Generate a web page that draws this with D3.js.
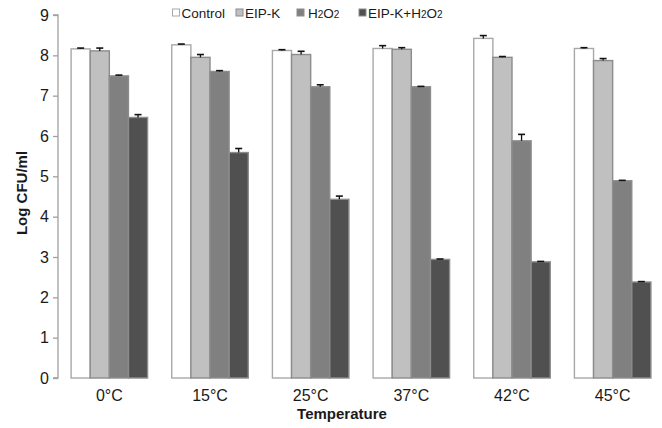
<!DOCTYPE html>
<html>
<head>
<meta charset="utf-8">
<script src="https://cdn.jsdelivr.net/npm/d3@7"></script>
<style>
  body { margin: 0; background: #fff; }
  text { font-family: "Liberation Sans", Arial, sans-serif; fill: #1a1a1a; }
</style>
</head>
<body>
<div id="chart"></div>
<script>
// data
var temps = ["0\u00B0C", "15\u00B0C", "25\u00B0C", "37\u00B0C", "42\u00B0C", "45\u00B0C"];
var series = ["Control", "EIP-K", "H2O2", "EIP-K+H2O2"];
var control = [8.16, 8.26, 8.12, 8.17, 8.42, 8.17];
var eipk = [8.11, 7.95, 8.02, 8.15, 7.95, 7.87];
var h2o2 = [7.49, 7.60, 7.22, 7.22, 5.88, 4.89];
var combo = [6.46, 5.59, 4.43, 2.94, 2.88, 2.38];
var errControl = [0.02, 0.02, 0.02, 0.07, 0.07, 0.02];
var errEipk = [0.07, 0.07, 0.08, 0.04, 0.02, 0.05];
var errH2o2 = [0.02, 0.02, 0.05, 0.01, 0.16, 0.01];
var errCombo = [0.07, 0.1, 0.08, 0.01, 0.01, 0.01];
var yTicks = [0, 1, 2, 3, 4, 5, 6, 7, 8, 9];

var fills = ["#ffffff", "#c0c0c0", "#808080", "#505050"];
var strokes = ["#a8a8a8", "#8c8c8c", "#8c8c8c", "#8c8c8c"];

var values = [control, eipk, h2o2, combo];
var errs = [errControl, errEipk, errH2o2, errCombo];

var width = 662, height = 428;

var svg = d3.select("#chart").append("svg")
  .attr("width", width)
  .attr("height", height);

var x0 = d3.scaleBand().domain(temps).range([58, 664]).paddingInner(0.24).paddingOuter(0.13);
var x1 = d3.scaleBand().domain(series).range([0, x0.bandwidth()]);
var y = d3.scaleLinear().domain([0, 9]).range([378, 15]);

// y axis
var yAxis = svg.append("g")
  .attr("transform", "translate(58,0)")
  .call(d3.axisLeft(y).tickValues(yTicks).tickSize(5).tickPadding(4));
yAxis.selectAll("path, line").attr("stroke", "#a0a0a0").attr("stroke-width", 1.3);
yAxis.select(".domain").attr("d", "M-5," + y(9) + "H0V" + y(0) + "H-5");
yAxis.selectAll("text").attr("font-size", 16).attr("fill", "#1a1a1a")
  .style("font-family", "'Liberation Sans', Arial, sans-serif");

// bars
var rows = [];
temps.forEach(function (t, i) {
  series.forEach(function (s, j) {
    rows.push({ t: t, s: s, j: j, v: values[j][i], e: errs[j][i] });
  });
});

var g = svg.append("g");
g.selectAll("rect.bar")
  .data(rows)
  .enter()
  .append("rect")
  .attr("class", "bar")
  .attr("x", d => x0(d.t) + x1(d.s))
  .attr("y", d => y(d.v))
  .attr("width", x1.bandwidth())
  .attr("height", d => y(0) - y(d.v))
  .attr("fill", d => fills[d.j])
  .attr("stroke", d => strokes[d.j])
  .attr("stroke-width", 1.4);

// error bars (upper half only)
var eb = g.selectAll("g.err").data(rows).enter().append("g").attr("class", "err");
eb.append("line")
  .attr("x1", d => x0(d.t) + x1(d.s) + x1.bandwidth() / 2)
  .attr("x2", d => x0(d.t) + x1(d.s) + x1.bandwidth() / 2)
  .attr("y1", d => y(d.v))
  .attr("y2", d => y(d.v + d.e))
  .attr("stroke", "#111")
  .attr("stroke-width", 1.3);
eb.append("line")
  .attr("x1", d => x0(d.t) + x1(d.s) + x1.bandwidth() / 2 - 3.5)
  .attr("x2", d => x0(d.t) + x1(d.s) + x1.bandwidth() / 2 + 3.5)
  .attr("y1", d => y(d.v + d.e))
  .attr("y2", d => y(d.v + d.e))
  .attr("stroke", "#111")
  .attr("stroke-width", 1.6);

// x tick labels
svg.selectAll("text.xlab")
  .data(temps)
  .enter()
  .append("text")
  .attr("class", "xlab")
  .attr("x", d => x0(d) + x0.bandwidth() / 2)
  .attr("y", 401)
  .attr("text-anchor", "middle")
  .attr("font-size", 16)
  .text(d => d);

// axis titles
svg.append("text")
  .attr("x", 342)
  .attr("y", 419)
  .attr("text-anchor", "middle")
  .attr("font-size", 15)
  .attr("font-weight", "bold")
  .text("Temperature");

svg.append("text")
  .attr("transform", "translate(27,193) rotate(-90)")
  .attr("text-anchor", "middle")
  .attr("font-size", 15)
  .attr("font-weight", "bold")
  .text("Log CFU/ml");

// legend
var leg = svg.selectAll("g.leg")
  .data(series)
  .enter()
  .append("g")
  .attr("class", "leg");
leg.append("rect")
  .attr("x", 0)
  .attr("y", 9)
  .attr("width", 7)
  .attr("height", 7)
  .attr("fill", (d, i) => fills[i])
  .attr("stroke", (d, i) => strokes[i]);
var lt = leg.append("text")
  .attr("x", (d, i) => i == 2 ? 11 : 9)
  .attr("y", 17.5)
  .attr("font-size", 13.5);
lt.each(function (d) {
  var t = d3.select(this);
  if (d.indexOf("H2O2") < 0) { t.text(d); return; }
  var pre = d.replace("H2O2", "");
  if (pre) t.append("tspan").text(pre);
  t.append("tspan").text("H");
  t.append("tspan").attr("font-size", 10).text("2");
  t.append("tspan").text("O");
  t.append("tspan").attr("font-size", 10).text("2");
});
// Control text ends right before the EIP-K swatch
var ctrlW = svg.select("g.leg text").node().getComputedTextLength();
leg.attr("transform", function (d, i) {
  var xs = [225 - ctrlW - 9, 236, 297, 359];
  return "translate(" + xs[i] + ",0)";
});
</script>
</body>
</html>
